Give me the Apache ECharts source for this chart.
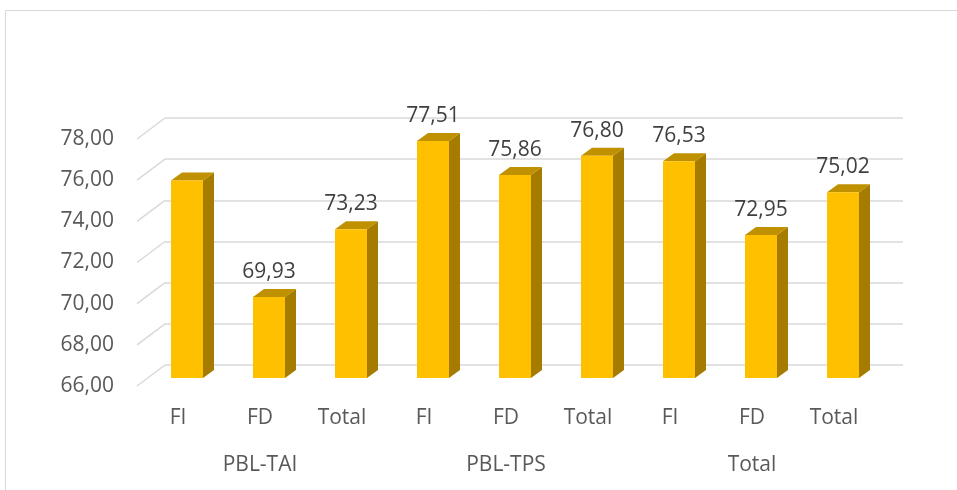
<!DOCTYPE html>
<html>
<head>
<meta charset="utf-8">
<script src="https://cdn.jsdelivr.net/npm/echarts@6/dist/echarts.min.js"></script>
<style>
html,body{margin:0;padding:0;background:#fff;}
#c{width:957px;height:490px;}
</style>
</head>
<body>
<div id="c"></div>
<script>
// ---- data ----
var categories = ['FI', 'FD', 'Total', 'FI', 'FD', 'Total', 'FI', 'FD', 'Total'];
var groups = ['PBL-TAI', 'PBL-TPS', 'Total'];
var values = [75.60, 69.93, 73.23, 77.51, 75.86, 76.80, 76.53, 72.95, 75.02];
var labelShown = [false, true, true, true, true, true, true, true, true];
var yTicks = [66, 68, 70, 72, 74, 76, 78];

// ---- style ----
var FONT = 'Open Sans';
var FS = 21;
var DEPTH_X = 28, DEPTH_Y = -21;      // floor depth (front plane -> back wall)
var BAR_OFF_X = 9, BAR_OFF_Y = -8;    // bar front face offset in depth
var BAR_D_X = 11, BAR_D_Y = -8;       // bar depth
var BAR_W = 32;

function fmt(v) { return v.toFixed(2).replace('.', ','); }

var chart = echarts.init(document.getElementById('c'), null, {renderer: 'canvas'});

var option = {
  backgroundColor: '#ffffff',
  animation: false,
  grid: [
    {left: 137, top: 139, width: 738, height: 247},
    {left: 137 + DEPTH_X, top: 139 + DEPTH_Y, width: 738, height: 247}
  ],
  xAxis: [
    {
      type: 'category', gridIndex: 0, data: categories,
      axisLine: {show: false}, axisTick: {show: false},
      axisLabel: {color: '#595959', fontFamily: FONT, fontSize: FS, margin: 22}
    },
    {
      type: 'category', gridIndex: 1, data: categories, show: false
    },
    {
      type: 'category', gridIndex: 0, data: groups, position: 'bottom', offset: 47,
      axisLine: {show: false}, axisTick: {show: false},
      axisLabel: {color: '#595959', fontFamily: FONT, fontSize: FS, margin: 22}
    }
  ],
  yAxis: [
    {
      type: 'value', gridIndex: 0, min: 66, max: 78, interval: 2,
      axisLine: {show: false}, axisTick: {show: false}, splitLine: {show: false},
      axisLabel: {color: '#595959', fontFamily: FONT, fontSize: FS, margin: 23, formatter: fmt}
    },
    {
      type: 'value', gridIndex: 1, min: 66, max: 78, interval: 2,
      axisLine: {show: false}, axisTick: {show: false},
      axisLabel: {show: false},
      splitLine: {show: true, lineStyle: {color: '#d9d9d9', width: 1.5}}
    }
  ],
  graphic: [
    {
      type: 'polyline', silent: true,
      shape: {points: [[5.5, 490], [5.5, 10.5], [957, 10.5]]},
      style: {stroke: '#d9d9d9', lineWidth: 1, fill: null}
    }
  ],
  series: [
    {
      // diagonal side-wall grid lines
      type: 'custom', xAxisIndex: 0, yAxisIndex: 0, silent: true,
      data: yTicks.map(function (t) { return [0, t]; }),
      renderItem: function (params, api) {
        var p = api.coord([0, api.value(1)]);
        var x0 = params.coordSys.x;
        return {
          type: 'line',
          shape: {x1: x0, y1: p[1], x2: x0 + DEPTH_X, y2: p[1] + DEPTH_Y},
          style: {stroke: '#d9d9d9', lineWidth: 1.5}
        };
      }
    },
    {
      type: 'custom', xAxisIndex: 0, yAxisIndex: 0, silent: true,
      data: values.map(function (v, i) { return [i, v]; }),
      renderItem: function (params, api) {
        var i = api.value(0), v = api.value(1);
        var top = api.coord([i, v]);
        var base = api.coord([i, 66]);
        var cx = top[0] + BAR_OFF_X;
        var x0 = cx - BAR_W / 2, x1 = cx + BAR_W / 2;
        var yT = top[1] + BAR_OFF_Y, yB = base[1] + BAR_OFF_Y;
        var children = [
          {type: 'polygon', shape: {points: [[x1, yT], [x1 + BAR_D_X, yT + BAR_D_Y], [x1 + BAR_D_X, yB + BAR_D_Y], [x1, yB]]},
           style: {fill: '#A67C00'}},
          {type: 'polygon', shape: {points: [[x0, yT], [x0 + BAR_D_X, yT + BAR_D_Y], [x1 + BAR_D_X, yT + BAR_D_Y], [x1, yT]]},
           style: {fill: '#BF9000'}},
          {type: 'rect', shape: {x: x0, y: yT, width: BAR_W, height: yB - yT},
           style: {fill: '#FFC000'}}
        ];
        if (labelShown[params.dataIndex]) {
          children.push({
            type: 'text',
            style: {
              text: fmt(v), x: cx, y: yT + BAR_D_Y - 17,
              align: 'center', verticalAlign: 'middle',
              fill: '#404040', font: FS + 'px "' + FONT + '"'
            }
          });
        }
        return {type: 'group', children: children};
      }
    }
  ]
};
chart.setOption(option);
</script>
</body>
</html>
